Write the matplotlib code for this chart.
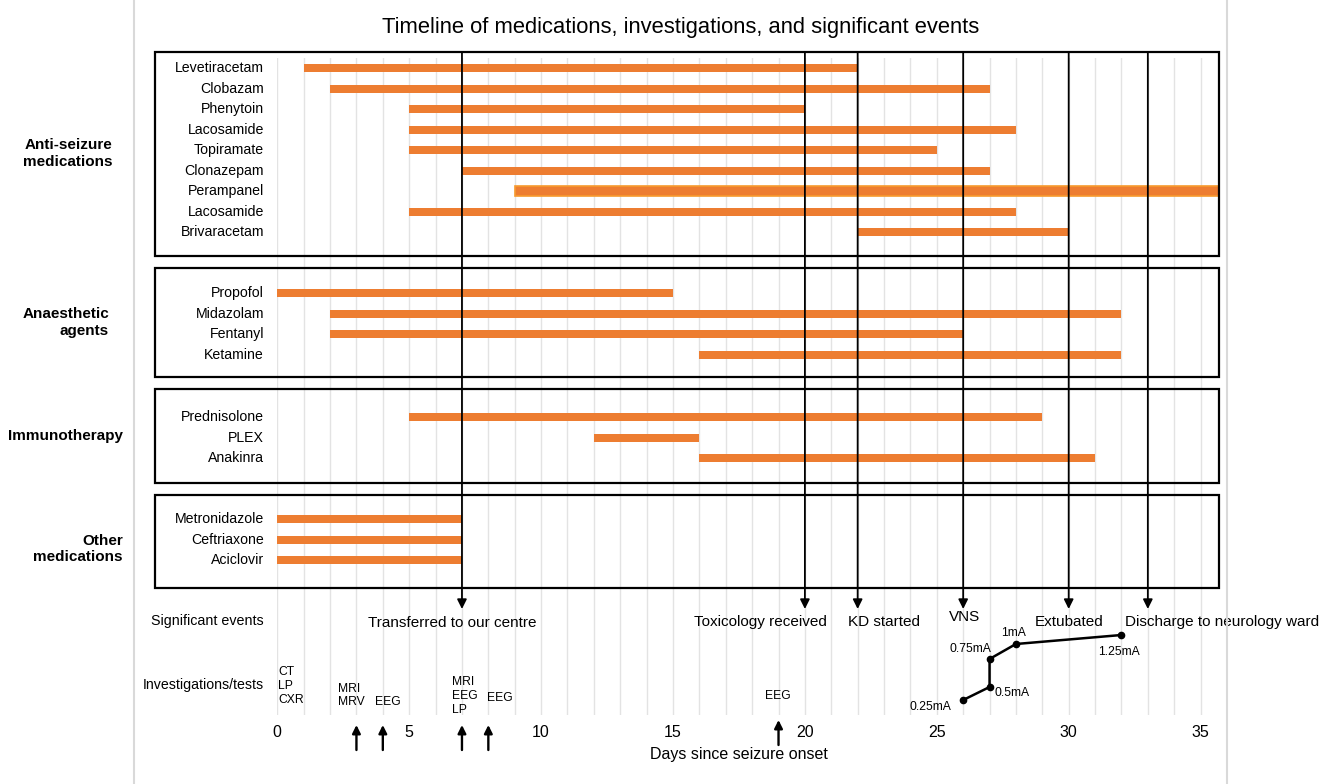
import numpy as np
import matplotlib
matplotlib.use("Agg")
import matplotlib.pyplot as plt
from matplotlib.patches import Rectangle
from matplotlib.lines import Line2D

plt.rcParams['font.family'] = ['Liberation Sans', 'DejaVu Sans']

# ---------------- data ----------------
title = "Timeline of medications, investigations, and significant events"

group_names = ["Anti-seizure\nmedications", "Anaesthetic\nagents", "Immunotherapy", "Other\nmedications"]

asm_drugs = ["Levetiracetam", "Clobazam", "Phenytoin", "Lacosamide", "Topiramate",
             "Clonazepam", "Perampanel", "Lacosamide", "Brivaracetam"]
asm_start = [1, 2, 5, 5, 5, 7, 9, 5, 22]
asm_end = [22, 27, 20, 28, 25, 27, 35.7, 28, 30]

anaes_drugs = ["Propofol", "Midazolam", "Fentanyl", "Ketamine"]
anaes_start = [0, 2, 2, 16]
anaes_end = [15, 32, 26, 32]

immuno_drugs = ["Prednisolone", "PLEX", "Anakinra"]
immuno_start = [5, 12, 16]
immuno_end = [29, 16, 31]

other_drugs = ["Metronidazole", "Ceftriaxone", "Aciclovir"]
other_start = [0, 0, 0]
other_end = [7, 7, 7]

event_labels = ["Transferred to our centre", "Toxicology received", "KD started",
                "VNS", "Extubated", "Discharge to neurology ward"]
event_days = [7, 20, 22, 26, 30, 33]

inv_labels = ["CT\nLP\nCXR", "MRI\nMRV", "EEG", "MRI\nEEG\nLP", "EEG", "EEG"]
inv_arrow_days = [3, 4, 7, 8, 19]

vns_days = [26, 27, 27, 28, 32]
vns_labels = ["0.25mA", "0.5mA", "0.75mA", "1mA", "1.25mA"]

xtick_days = [0, 5, 10, 15, 20, 25, 30, 35]

# ---------------- layout (pixel based) ----------------
W, H = 1325, 784
X0, PX = 277.3, 26.38          # pixel of day 0, pixels per day
XMAX = 35.7
Y_TOP, Y_BOT = 58, 715          # plotting area (grid) vertical extent in px

fig = plt.figure(figsize=(W / 100, H / 100), dpi=100)
ax = fig.add_axes([X0 / W, 1 - Y_BOT / H, XMAX * PX / W, (Y_BOT - Y_TOP) / H])
ax.set_xlim(0, XMAX)
ax.set_ylim(Y_BOT, Y_TOP)
for s in ax.spines.values():
    s.set_visible(False)
ax.set_yticks([])
ax.set_xticks(xtick_days)
ax.set_xticklabels([str(d) for d in xtick_days], fontsize=11.5)
ax.set_xticks(np.arange(0, 36), minor=True)
ax.tick_params(axis='x', which='both', length=0, pad=7)
ax.grid(axis='x', which='both', color='#e3e3e3', lw=1, zorder=0)
ax.set_axisbelow(True)
ax.set_xlabel("Days since seizure onset", fontsize=11.5)
ax.xaxis.set_label_coords(17.5 / XMAX, -(754 - Y_BOT) / (Y_BOT - Y_TOP))
ax.xaxis.label.set_verticalalignment('center')


def day(px):
    return (px - X0) / PX


BAR_COLOR = '#ED7D31'
box_left = day(155)
label_x = day(264)

groups = [
    (asm_drugs, asm_start, asm_end),
    (anaes_drugs, anaes_start, anaes_end),
    (immuno_drugs, immuno_start, immuno_end),
    (other_drugs, other_start, other_end),
]
box_tops = [52, 268, 389, 495]
box_bots = [256, 377, 483, 588]
first_row = [68, 293, 417, 519]
ROW = 20.5
group_label_right = [112, 109, 123, 123]
group_label_y = [153.5, 322.5, 436, 549]

for gi, (names, starts, ends) in enumerate(groups):
    ys = [first_row[gi] + ROW * i for i in range(len(names))]
    widths = [e - s for s, e in zip(starts, ends)]
    bars = ax.barh(ys, widths, left=starts, height=8, color=BAR_COLOR, zorder=2)
    for name, y, b in zip(names, ys, bars):
        ax.text(label_x, y, name, ha='right', va='center', fontsize=10.2, clip_on=False)
        if name == "Perampanel":
            b.set_height(10)
            b.set_y(y - 5)
            b.set_edgecolor('#F79A2E')
            b.set_linewidth(1.2)
    ax.add_patch(Rectangle((box_left, box_tops[gi]), XMAX - box_left,
                           box_bots[gi] - box_tops[gi], fill=False,
                           edgecolor='black', lw=1.6, clip_on=False, zorder=4))
    ax.text(day(group_label_right[gi]), group_label_y[gi], group_names[gi],
            ha='right', va='center', multialignment='right', fontsize=11,
            fontweight='bold', linespacing=1.25, clip_on=False)

# ---------------- significant events ----------------
ax.text(label_x, 621, "Significant events", ha='right', va='center', fontsize=10.3, clip_on=False)
event_text_x = [6.65, 18.3, 23.0, 26.05, 30.0, 35.8]
event_text_y = [623, 622, 622, 617, 622, 622]
for d, lab, tx, ty in zip(event_days, event_labels, event_text_x, event_text_y):
    ax.annotate('', xy=(d, 609), xytext=(d, box_tops[0]),
                arrowprops=dict(arrowstyle='-|>', color='black', lw=1.3,
                                mutation_scale=14, shrinkA=0, shrinkB=0),
                annotation_clip=False, zorder=5)
    ax.text(tx, ty, lab, ha='center', va='center', fontsize=11, clip_on=False)

# ---------------- investigations ----------------
ax.text(label_x, 685, "Investigations/tests", ha='right', va='center', fontsize=10.2, clip_on=False)
inv_text_x = [0.03, 2.3, 3.72, 6.64, 7.96, 18.96]
inv_text_y = [686, 695.5, 702, 696, 698, 696]
inv_ha = ['left', 'left', 'left', 'left', 'left', 'center']
for lab, tx, ty, ha in zip(inv_labels, inv_text_x, inv_text_y, inv_ha):
    ax.text(tx, ty, lab, ha=ha, va='center', fontsize=8.7, linespacing=1.18, clip_on=False)
for d in inv_arrow_days:
    y_tip = 720 if d == 19 else 725
    ax.annotate('', xy=(d, y_tip), xytext=(d, y_tip + 25),
                arrowprops=dict(arrowstyle='-|>', color='black', lw=1.7,
                                mutation_scale=12, shrinkA=0, shrinkB=0),
                annotation_clip=False)

# ---------------- VNS current ----------------
vns_y = [700, 687, 659, 644, 635]
ax.plot(vns_days, vns_y, color='black', lw=1.8, marker='o', ms=4.5, clip_on=False, zorder=5)
vns_off = [(-0.45, 7, 'right'), (0.2, 6, 'left'), (0.05, -10, 'right'),
           (-0.1, -11, 'center'), (-0.1, 17, 'center')]
for d, y, lab, (dx, dy, ha) in zip(vns_days, vns_y, vns_labels, vns_off):
    ax.text(d + dx, y + dy, lab, ha=ha, va='center', fontsize=8.7, clip_on=False)

# ---------------- title & frame ----------------
fig.text(681 / W, 1 - 27 / H, title, ha='center', va='center', fontsize=15.8)
for xp in (134, 1227):
    fig.add_artist(Line2D([xp / W, xp / W], [0, 1], color='#d9d9d9', lw=1.5))

fig.savefig("out.png", dpi=100, facecolor='white')
